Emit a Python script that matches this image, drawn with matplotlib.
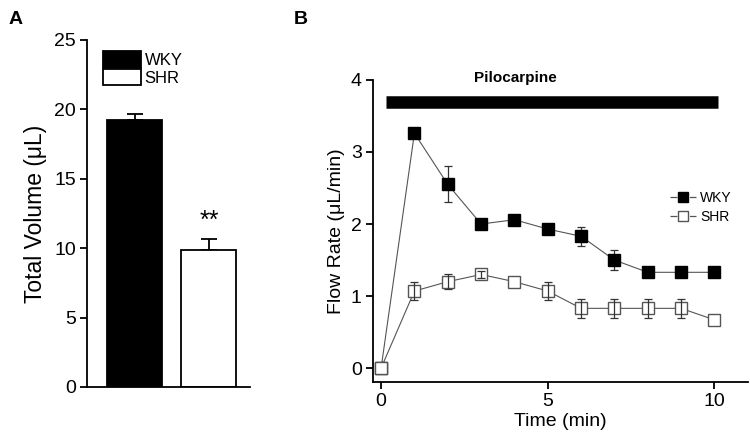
import matplotlib
matplotlib.use("Agg")
import matplotlib.pyplot as plt
from matplotlib.patches import Patch
from matplotlib.lines import Line2D

plt.rcParams['font.family'] = ['Liberation Sans', 'DejaVu Sans']
plt.rcParams['lines.scale_dashes'] = False

# Panel A data
groups = ["WKY", "SHR"]
total_volume = [19.2, 9.85]
total_err = [0.45, 0.8]

# Panel B data
time_min = [0, 1, 2, 3, 4, 5, 6, 7, 8, 9, 10]
wky_flow = [0.0, 3.26, 2.55, 2.0, 2.06, 1.93, 1.83, 1.5, 1.33, 1.33, 1.33]
wky_err = [0.0, 0.0, 0.25, 0.0, 0.0, 0.0, 0.13, 0.14, 0.0, 0.0, 0.0]
shr_flow = [0.0, 1.07, 1.2, 1.3, 1.2, 1.07, 0.83, 0.83, 0.83, 0.83, 0.67]
shr_err = [0.0, 0.13, 0.1, 0.05, 0.0, 0.13, 0.13, 0.13, 0.13, 0.13, 0.0]
pilo_start, pilo_end = 0.15, 10.1

fig = plt.figure(figsize=(7.5, 4.44), dpi=100)

# ---------- Panel A ----------
axA = fig.add_axes([0.116, 0.1284, 0.217, 0.7816])
xpos = [0, 1]
axA.bar(xpos, total_volume, width=0.74, color=["black", "white"],
        edgecolor="black", linewidth=1.3, zorder=2)
for x, v, e in zip(xpos, total_volume, total_err):
    axA.errorbar([x], [v], yerr=[[0], [e]], fmt="none", ecolor="black",
                 elinewidth=1.3, capsize=6, capthick=1.3, zorder=1)
axA.text(1, total_volume[1] + total_err[1] + 1.3, "**", ha="center",
         va="center", fontsize=18)
axA.set_xlim(-0.64, 1.55)
axA.set_ylim(0, 25)
axA.set_yticks([0, 5, 10, 15, 20, 25])
axA.set_xticks([])
for s in ["top", "right"]:
    axA.spines[s].set_visible(False)
for s in ["left", "bottom"]:
    axA.spines[s].set_linewidth(1.3)
axA.tick_params(axis="y", direction="out", length=5, width=1.3,
                labelsize=14, pad=3)
axA.set_ylabel("Total Volume (μL)", fontsize=16.5, labelpad=5)
axA.legend(handles=[Patch(facecolor="black", edgecolor="black", linewidth=1.3),
                    Patch(facecolor="white", edgecolor="black", linewidth=1.3)],
           labels=groups, loc="upper left", bbox_to_anchor=(0.098, 0.968),
           frameon=False, fontsize=12, handlelength=2.3, handleheight=1.15,
           labelspacing=0.05, handletextpad=0.2, borderpad=0, borderaxespad=0)

# ---------- Panel B ----------
axB = fig.add_axes([0.497, 0.140, 0.500, 0.680])
line_col = "#555555"
axB.plot(time_min, wky_flow, color=line_col, linewidth=0.8, zorder=2)
axB.plot(time_min, shr_flow, color=line_col, linewidth=0.8, zorder=2)


def draw_err(xs, ys, es, z):
    px = [x for x, e in zip(xs, es) if e > 0]
    py = [y for y, e in zip(ys, es) if e > 0]
    pe = [e for e in es if e > 0]
    axB.errorbar(px, py, yerr=pe, fmt="none", ecolor="#333333",
                 elinewidth=0.9, capsize=3, capthick=0.9, zorder=z)


draw_err(time_min, wky_flow, wky_err, 3)
draw_err(time_min, shr_flow, shr_err, 5)
axB.plot(time_min, wky_flow, linestyle="none", marker="s", markersize=8,
         markerfacecolor="black", markeredgecolor="black", zorder=4)
axB.plot(time_min, shr_flow, linestyle="none", marker="s", markersize=8,
         markerfacecolor="white", markeredgecolor="#555555",
         markeredgewidth=1.0, zorder=4)
axB.plot([pilo_start, pilo_end], [3.7, 3.7], color="black", linewidth=9,
         solid_capstyle="butt", clip_on=False)
axB.text(4.02, 4.02, "Pilocarpine", ha="center",
         va="center", fontsize=11, fontweight="bold", clip_on=False)
axB.set_xlim(-0.25, 11.0)
axB.set_ylim(-0.19, 4.0)
axB.set_xticks([0, 5, 10])
axB.set_yticks([0, 1, 2, 3, 4])
for s in ["top", "right"]:
    axB.spines[s].set_visible(False)
for s in ["left", "bottom"]:
    axB.spines[s].set_linewidth(1.3)
axB.tick_params(direction="out", length=5, width=1.3, labelsize=14, pad=3)
axB.set_xlabel("Time (min)", fontsize=14, labelpad=2)
axB.set_ylabel("Flow Rate (μL/min)", fontsize=14, labelpad=4)
dash = (0, (5.0, 9.0, 5.0, 100))
hW = Line2D([], [], color=line_col, linewidth=0.9, linestyle=dash, marker="s",
            markersize=6.5, markerfacecolor="black", markeredgecolor="black")
hS = Line2D([], [], color=line_col, linewidth=0.9, linestyle=dash, marker="s",
            markersize=6.5, markerfacecolor="white", markeredgecolor="#555555")
axB.legend(handles=[hW, hS], labels=["WKY", "SHR"], loc="center left",
           bbox_to_anchor=(0.792, 0.578), frameon=False, fontsize=10,
           handlelength=1.9, labelspacing=0.35, handletextpad=0.3,
           borderpad=0, borderaxespad=0)

fig.text(0.012, 0.975, "A", fontsize=14, fontweight="bold", va="top")
fig.text(0.392, 0.975, "B", fontsize=14, fontweight="bold", va="top")

fig.savefig("out.png", dpi=100)
